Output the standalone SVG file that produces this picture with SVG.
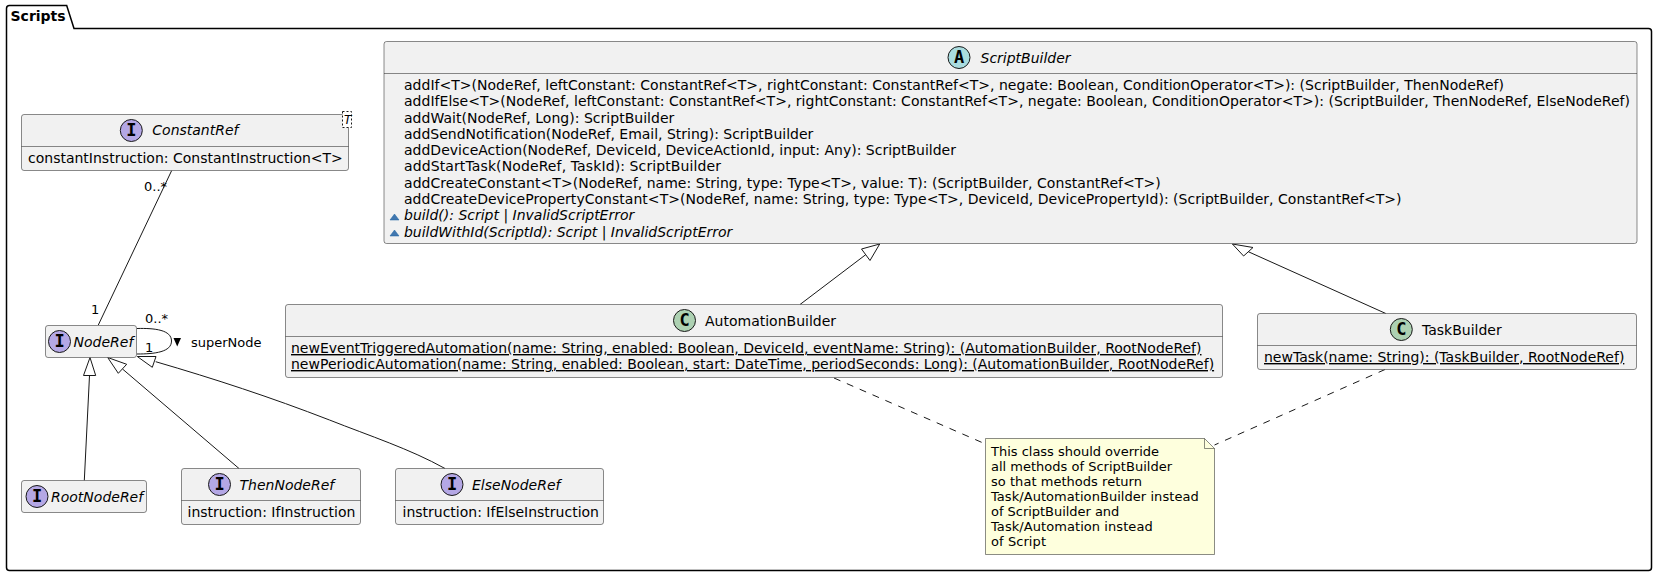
<svg xmlns="http://www.w3.org/2000/svg" width="1658" height="576" viewBox="0 0 1658 576">
<style>
text{font-family:"DejaVu Sans",sans-serif;font-size:14px;fill:#000}
.box{fill:#F1F1F1;stroke:#181818;stroke-width:.5}
.sep{stroke:#181818;stroke-width:.5;fill:none}
.i{font-style:italic}
.u{text-decoration:underline;text-decoration-skip-ink:none}
.ln{stroke:#181818;stroke-width:1;fill:none}
.dash{stroke:#181818;stroke-width:1;fill:none;stroke-dasharray:7,7}
.tri{fill:#fff;stroke:#181818;stroke-width:1}
.si{fill:#B4A7E5;stroke:#181818;stroke-width:1}
.sc{fill:#ADD1B2;stroke:#181818;stroke-width:1}
.sa{fill:#A9DCDF;stroke:#181818;stroke-width:1}
.g{font-family:"DejaVu Sans Mono","Liberation Mono",monospace;font-weight:bold;font-size:17px;text-anchor:middle}
.s13{font-size:13px}
.vis{fill:#4177AF;stroke:#1963A0;stroke-width:.5}
</style>
<g id="package-Scripts">
<path d="M6.500 28.500V8.500Q6.500 5.500 9.500 5.500H66.700L74 28.500H1648.500Q1651.500 28.500 1651.500 31.500V567.500Q1651.500 570.500 1648.500 570.500H9.500Q6.500 570.500 6.500 567.500V28.500" fill="none" stroke="#000" stroke-width="1.5"/>
<text x="10.500" y="21" style="font-weight:bold">Scripts</text>
</g>
<g id="connectors">
<path class="ln" d="M171.700 170.500L98.300 325"/>
<text x="144" y="191" class="s13">0..*</text>
<text x="91" y="314" class="s13">1</text>
<path class="ln" d="M137 328.500C155 328 171.500 330 171.500 341C171.500 352 155 354 137 354"/>
<text x="145" y="323" class="s13">0..*</text>
<text x="145" y="352" class="s13">1</text>
<polygon points="173.500,338 181,338 177.200,346.500" fill="#000"/>
<text x="191" y="346.500" class="s13">superNode</text>
<path class="ln" d="M89.500 375.500L84.300 480.500"/>
<polygon class="tri" points="90,357.500 83.500,375.500 95.700,375.500"/>
<path class="ln" d="M122.500 369L239 468.500"/>
<polygon class="tri" points="107.700,357.500 118.300,373.300 126.700,364.300"/>
<path class="ln" d="M155.700 361.700C215 379 270 397 329.500 420C370 436 410 449 445 468.500"/>
<polygon class="tri" points="137.300,356.500 156,356.500 152.300,367.300"/>
<path class="ln" d="M865.700 254.700L800 304.500"/>
<polygon class="tri" points="879.700,244 861.500,249 870,260.500"/>
<path class="ln" d="M1248.300 251.700L1385.800 313.500"/>
<polygon class="tri" points="1232.400,244 1243.600,256 1253,247.500"/>
<path class="dash" d="M834 378L985.500 444"/>
<path class="dash" d="M1385 369.500L1214.500 445"/>
</g>
<g id="ScriptBuilder">
<rect class="box" x="384" y="41.500" width="1253" height="202" rx="2.500"/>
<path class="sep" d="M384 73.500H1637"/>
<circle class="sa" cx="959" cy="57.500" r="11"/>
<text class="g" x="959" y="63">A</text>
<text class="i" x="980.500" y="63">ScriptBuilder</text>
<text x="404" y="90" textLength="1100">addIf&lt;T&gt;(NodeRef, leftConstant: ConstantRef&lt;T&gt;, rightConstant: ConstantRef&lt;T&gt;, negate: Boolean, ConditionOperator&lt;T&gt;): (ScriptBuilder, ThenNodeRef)</text>
<text x="404" y="106" textLength="1226">addIfElse&lt;T&gt;(NodeRef, leftConstant: ConstantRef&lt;T&gt;, rightConstant: ConstantRef&lt;T&gt;, negate: Boolean, ConditionOperator&lt;T&gt;): (ScriptBuilder, ThenNodeRef, ElseNodeRef)</text>
<text x="404" y="123" textLength="270.300">addWait(NodeRef, Long): ScriptBuilder</text>
<text x="404" y="139" textLength="409.300">addSendNotification(NodeRef, Email, String): ScriptBuilder</text>
<text x="404" y="155" textLength="552">addDeviceAction(NodeRef, DeviceId, DeviceActionId, input: Any): ScriptBuilder</text>
<text x="404" y="171" textLength="317">addStartTask(NodeRef, TaskId): ScriptBuilder</text>
<text x="404" y="188" textLength="756.700">addCreateConstant&lt;T&gt;(NodeRef, name: String, type: Type&lt;T&gt;, value: T): (ScriptBuilder, ConstantRef&lt;T&gt;)</text>
<text x="404" y="204" textLength="997.500">addCreateDevicePropertyConstant&lt;T&gt;(NodeRef, name: String, type: Type&lt;T&gt;, DeviceId, DevicePropertyId): (ScriptBuilder, ConstantRef&lt;T&gt;)</text>
<polygon class="vis" points="390,220 399,220 394.500,214"/>
<text class="i" x="404" y="220" textLength="230.300">build(): Script | InvalidScriptError</text>
<polygon class="vis" points="390,236 399,236 394.500,230"/>
<text class="i" x="404" y="236.500" textLength="328.300">buildWithId(ScriptId): Script | InvalidScriptError</text>
</g>
<g id="ConstantRef">
<rect class="box" x="21.500" y="114.500" width="327" height="56" rx="2.500"/>
<path class="sep" d="M21.500 146.500H348.500"/>
<circle class="si" cx="131.300" cy="130.500" r="11"/>
<text class="g" x="131.300" y="136">I</text>
<text class="i" x="152.300" y="135">ConstantRef</text>
<text x="28" y="163">constantInstruction: ConstantInstruction&lt;T&gt;</text>
<rect x="342.500" y="111.500" width="9" height="16" fill="#fff" stroke="#181818" stroke-width="1" stroke-dasharray="2,2"/>
<text class="i" x="344" y="124" style="font-size:12px">T</text>
</g>
<g id="NodeRef">
<rect class="box" x="45.500" y="325.500" width="91" height="32" rx="2.500"/>
<circle class="si" cx="59.500" cy="341.500" r="11"/>
<text class="g" x="59.500" y="347">I</text>
<text class="i" x="73.500" y="346.500">NodeRef</text>
</g>
<g id="RootNodeRef">
<rect class="box" x="21.500" y="480.500" width="125" height="32" rx="2.500"/>
<circle class="si" cx="37" cy="496.500" r="11"/>
<text class="g" x="37" y="502">I</text>
<text class="i" x="51" y="501.500">RootNodeRef</text>
</g>
<g id="ThenNodeRef">
<rect class="box" x="181.500" y="468.500" width="179" height="56" rx="2.500"/>
<path class="sep" d="M181.500 500.500H360.500"/>
<circle class="si" cx="219.500" cy="484.500" r="11"/>
<text class="g" x="219.500" y="490">I</text>
<text class="i" x="239.500" y="489.500">ThenNodeRef</text>
<text x="187.500" y="517">instruction: IfInstruction</text>
</g>
<g id="ElseNodeRef">
<rect class="box" x="395.500" y="468.500" width="208" height="56" rx="2.500"/>
<path class="sep" d="M395.500 500.500H603.500"/>
<circle class="si" cx="452" cy="484.500" r="11"/>
<text class="g" x="452" y="490">I</text>
<text class="i" x="472" y="489.500">ElseNodeRef</text>
<text x="402.500" y="517">instruction: IfElseInstruction</text>
</g>
<g id="AutomationBuilder">
<rect class="box" x="285.500" y="304.500" width="937" height="73" rx="2.500"/>
<path class="sep" d="M285.500 336.500H1222.500"/>
<circle class="sc" cx="684.500" cy="320.500" r="11"/>
<text class="g" x="684.500" y="326">C</text>
<text x="705" y="326">AutomationBuilder</text>
<text class="u" x="291" y="353">newEventTriggeredAutomation(name: String, enabled: Boolean, DeviceId, eventName: String): (AutomationBuilder, RootNodeRef)</text>
<text class="u" x="291" y="369">newPeriodicAutomation(name: String, enabled: Boolean, start: DateTime, periodSeconds: Long): (AutomationBuilder, RootNodeRef)</text>
</g>
<g id="TaskBuilder">
<rect class="box" x="1257.500" y="313.500" width="379" height="56" rx="2.500"/>
<path class="sep" d="M1257.500 345.500H1636.500"/>
<circle class="sc" cx="1401.300" cy="329.500" r="11"/>
<text class="g" x="1401.300" y="335">C</text>
<text x="1422" y="335">TaskBuilder</text>
<text class="u" x="1264" y="362">newTask(name: String): (TaskBuilder, RootNodeRef)</text>
</g>
<g id="note">
<path d="M985.500 438.500H1204.500L1214.500 448.500V554.500H985.500Z" fill="#FEFFDD" stroke="#181818" stroke-width=".5"/>
<path d="M1204.500 438.500V448.500H1214.500" fill="none" stroke="#181818" stroke-width=".5"/>
<text class="s13" x="991" y="456" textLength="168">This class should override</text>
<text class="s13" x="991" y="471" textLength="181">all methods of ScriptBuilder</text>
<text class="s13" x="991" y="486" textLength="151">so that methods return</text>
<text class="s13" x="991" y="501" textLength="207.700">Task/AutomationBuilder instead</text>
<text class="s13" x="991" y="516" textLength="128.300">of ScriptBuilder and</text>
<text class="s13" x="991" y="531" textLength="161.700">Task/Automation instead</text>
<text class="s13" x="991" y="546" textLength="55">of Script</text>
</g>
</svg>
